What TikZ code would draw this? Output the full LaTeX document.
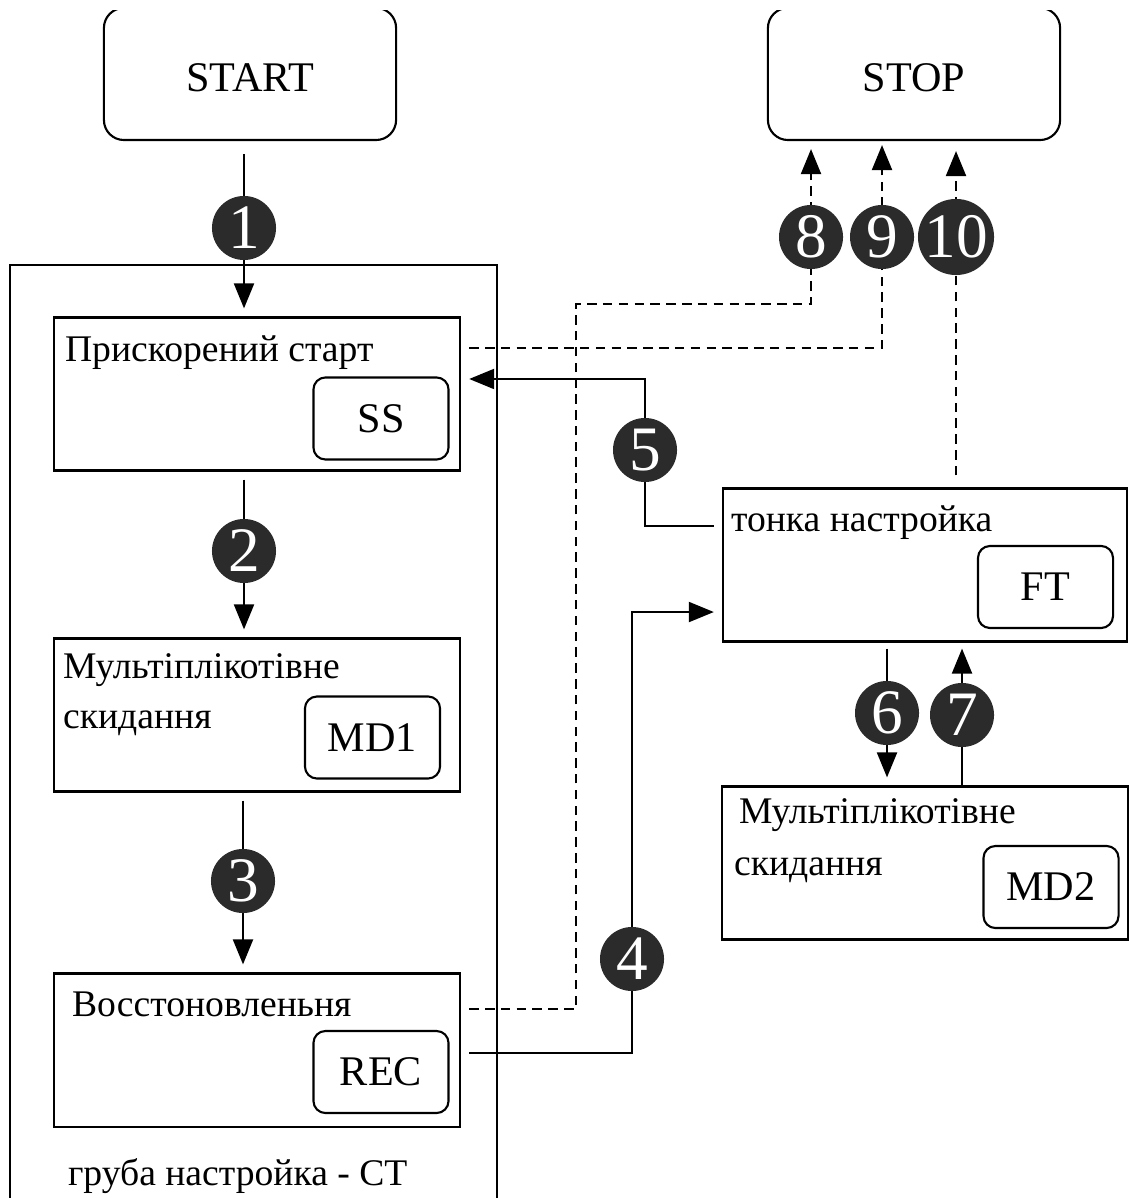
\documentclass[tikz,border=0pt]{standalone}
\usepackage{fontspec}
\setmainfont{Liberation Serif}
\usetikzlibrary{arrows.meta}
\definecolor{TuneStepColor}{RGB}{43,43,43}

\begin{document}
\begin{tikzpicture}[x=0.01cm,y=-0.01cm,line width=0.6pt,font=\fontsize{10.7}{13}\selectfont,
term/.style={draw,rounded corners=0.2cm,minimum width=2.92cm,minimum height=1.32cm,text height=0.36cm,text depth=0pt,font=\fontsize{12}{14}\selectfont},
blk/.style={draw,rectangle,minimum width=4.06cm,minimum height=1.53cm},
tag/.style={draw,rounded corners=0.12cm,minimum width=1.35cm,minimum height=0.82cm,font=\fontsize{12}{14}\selectfont},
txt/.style={anchor=base west,inner sep=0pt},
num/.style={circle,fill=TuneStepColor,text=white,inner sep=0pt,minimum size=0.64cm,font=\fontsize{18}{18}\selectfont},
arr/.style={-{Triangle[length=0.25cm,width=0.2cm]},shorten >=0.08cm,shorten <=0.08cm},
dsh/.style={arr,dash pattern=on 2.7pt off 1.8pt}]
\useasboundingbox (0,0) rectangle (1129,1198);
\clip (0,11) rectangle (1130,1198);
% terminals
\node[term](start) at(250,74) {START};
\node[term](stop) at(914,74) {STOP};
% coarse tuning
\node[draw,minimum width=4.87cm,minimum height=9.6cm](ct) at(253.5,745) {};
\node[blk](ss) at(257,394) {};
\node[blk](md1) at(257,715) {};
\node[blk](rec) at(257,1050) {};
% fine tuning
\node[blk,minimum width=4.04cm](ft) at(925,565) {};
\node[blk](md2) at(925,863) {};
\foreach \nm/\x/\y/\t in %
{ss/381/418.5/SS,md1/372.5/737.5/MD1,rec/381/1072/REC,ft/1045.5/587/FT,md2/1051/887/MD2} {
   \node[tag](tag-\nm) at(\x,\y) {\t};
}
\node[txt](ss-a) at(64,362) {Прискорений старт};
\node[txt](md1-a) at(62,678) {Мультіплікотівне};
\node[txt](md1-b) at(62,728) {скидання};
\node[txt](rec-a) at(71,1016) {Восстоновленьня};
\node[txt](ft-a) at(730,532) {тонка настройка};
\node[txt](md2-a) at(738,823) {Мультіплікотівне};
\node[txt](md2-b) at(733,875) {скидання};
\node[txt](ct-a) at(67,1185) {груба настройка - CT};
% step marks
\foreach \i/\x/\y in %
{1/244/228,2/244/551,3/243/881,4/632/959,5/645/450,6/887/713,7/962/715,8/811/237,9/882/237,10/956/237} {
   \coordinate (c\i) at(\x,\y);
}
\coordinate (k8) at(576,304);
\draw[arr,shorten <=0.13cm] (start.south -| c1) -- (c1 |- ss.north);
\draw[arr] (ss.south -| c2) -- (c2 |- md1.north);
\draw[arr] (md1.south -| c3) -- (c3 |- rec.north);
\draw[arr] ([yshift=-0.03cm]rec.east) -| (c4) |- ([yshift=-0.47cm]ft.west);
\draw[arr] ([yshift=0.39cm]ft.west) -| (c5) |- ([yshift=0.15cm]ss.east);
\draw[arr,shorten <=0.06cm] (ft.south -| c6) -- (c6 |- md2.north);
\draw[arr,shorten <=0pt,shorten >=0.06cm] (md2.north -| c7) -- (c7 |- ft.south);
\draw[dsh] ([yshift=0.41cm]rec.east) -| (k8) -| (c8) -- (c8 |- stop.south);
\draw[dsh,shorten >=0.04cm] ([yshift=0.46cm]ss.east) -| (c9) -- (c9 |- stop.south);
\draw[dsh,shorten <=0.12cm,shorten >=0.1cm] (ft.north -| c10) -- (c10 |- stop.south);
\foreach \i in {1,...,10} {
   \node[num](n\i) at(c\i) {\i};
}
\end{tikzpicture}
\end{document}
